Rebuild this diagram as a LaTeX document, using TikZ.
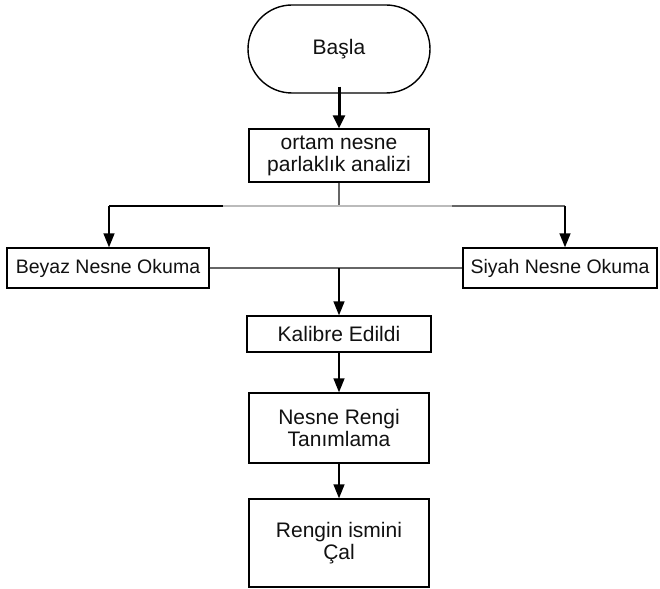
\documentclass[tikz,border=0pt]{standalone}
\usepackage{fontspec}
\setmainfont{Liberation Sans}
\usetikzlibrary{arrows.meta}
\definecolor{txt}{HTML}{111111}
\definecolor{midgray}{HTML}{BBBBBB}
\definecolor{linegray}{HTML}{666666}
\begin{document}
\begin{tikzpicture}[x=1pt,y=-1pt,
  box/.style={draw=black,line width=1.4pt,fill=white,text=txt,align=center,inner sep=0pt,
    font=\fontsize{21}{22}\selectfont},
  sidebox/.style={box,font=\fontsize{19.5}{22}\selectfont},
  arr/.style={draw=black,line width=1.5pt,-{Triangle[length=14pt,width=11pt]}},
  thickarr/.style={draw=black,line width=3pt,-{Triangle[length=13pt,width=12pt]}},
  plain/.style={draw=black,line width=1.5pt}]
\useasboundingbox (0,0) rectangle (660,588);
\fill[white] (0,0) rectangle (660,588);

\node[box,minimum width=182pt,minimum height=88pt,rounded corners=44pt] (basla) at (339,49) {Başla};
\node[box,minimum width=180pt,minimum height=53pt] (ortam) at (339,155.5) {ortam nesne\\parlaklık analizi};
\node[sidebox,minimum width=202pt,minimum height=40pt] (beyaz) at (108,268) {Beyaz Nesne Okuma};
\node[sidebox,minimum width=194pt,minimum height=40pt] (siyah) at (560,268) {Siyah Nesne Okuma};
\node[box,minimum width=184pt,minimum height=36pt] (kalibre) at (339,334) {Kalibre Edildi};
\node[box,minimum width=180pt,minimum height=70pt] (nesne) at (339,428) {Nesne Rengi\\Tanımlama};
\node[box,minimum width=180pt,minimum height=88pt] (rengin) at (339,543) {Rengin ismini\\Çal};

\coordinate (brC) at (339,206);
\coordinate (brL) at (109,206);
\coordinate (brR) at (565,206);
\coordinate (gL) at (223,206);
\coordinate (gR) at (452,206);
\coordinate (mid) at (339,268);

% start arrow
\draw[thickarr,shorten <=-7pt] (basla.south) -- (ortam.north);

% branch
\draw[draw=linegray,line width=1.5pt] (ortam.south) -- (brC);
\draw[draw=midgray,line width=2pt] (gL) -- (gR);
\draw[plain] (gL) -- (brL);
\draw[arr] (brL) -- (brL |- beyaz.north);
\draw[draw=linegray,line width=1.5pt] (gR) -- (brR);
\draw[arr] (brR) -- (brR |- siyah.north);

% merge
\draw[draw=linegray,line width=1.5pt] (beyaz.east) -- (siyah.west);
\draw[arr] (mid) -- (kalibre.north);

\draw[arr] (kalibre.south) -- (nesne.north);
\draw[arr] (nesne.south) -- (rengin.north);
\end{tikzpicture}
\end{document}
